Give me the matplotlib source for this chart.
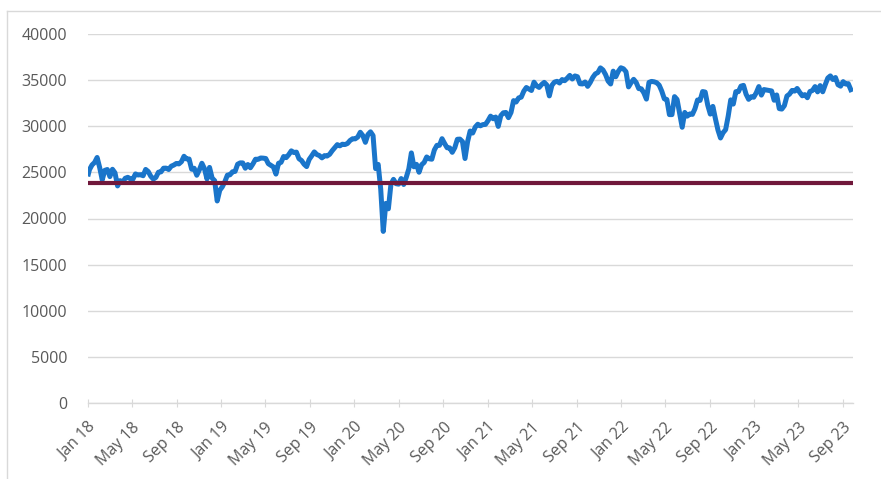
import matplotlib
matplotlib.use("Agg")
import matplotlib.pyplot as plt
import matplotlib.dates as mdates
from matplotlib.lines import Line2D
import pandas as pd

# weekly closes (Fridays)
dow_2018 = [25296, 25803, 26072, 26617, 25521, 24191, 25219, 25310, 24538, 25336, 24947, 23533,
            24103, 23933, 24360, 24463, 24311, 24263, 24831, 24715, 24753, 24635, 25317, 25090,
            24581, 24271, 24456, 25019, 25058, 25451, 25463, 25313, 25669, 25790, 25965, 25917,
            26155, 26744, 26458, 26447, 25340, 25444, 24688, 25271, 25989, 25413, 24286, 25538,
            24389, 24101, 21900, 23062]
dow_2019 = [23433, 23996, 24706, 24737, 25064, 25106, 25883, 26031, 26026, 25450, 25849, 25502,
            25929, 26425, 26412, 26559, 26543, 26505, 25942, 25764, 25586, 24815, 25984, 26090,
            26719, 26600, 26922, 27332, 27154, 27192, 26485, 26287, 25886, 25629, 26403, 26797,
            27220, 26935, 26820, 26573, 26817, 26770, 26958, 27347, 27681, 28005, 27876, 28051,
            28015, 28135, 28455, 28645]
dow_2020 = [28634, 28824, 29348, 28989, 28256, 29102, 29398, 28992, 25409, 25865, 23186, 18600,
            21637, 21053, 23719, 24242, 23775, 23724, 24331, 23685, 24465, 25383, 27111, 25605,
            25871, 25016, 25827, 26075, 26672, 26470, 26428, 27433, 27931, 27930, 28654, 28133,
            27666, 27657, 27174, 27682, 28587, 28606, 28336, 26502, 28323, 29480, 29263, 29910,
            30218, 30046, 30179, 30200]
dow_2021 = [30606, 31098, 30814, 30997, 29983, 31148, 31458, 31494, 30932, 31496, 32779, 32628,
            33073, 33153, 33801, 34200, 34043, 33875, 34778, 34382, 34208, 34529, 34756, 34480,
            33290, 34434, 34786, 34870, 34688, 35062, 34935, 35209, 35515, 35120, 35456, 35369,
            34608, 34584, 34798, 34326, 34746, 35295, 35677, 35820, 36328, 36100, 35602, 34899,
            34580, 35971, 35365, 35950, 36338]
dow_2022 = [36231, 35912, 34265, 34725, 35089, 34738, 34079, 34059, 33615, 32944, 34755, 34861,
            34818, 34721, 34451, 33811, 32977, 32899, 31262, 31262, 33212, 32899, 31393, 29888,
            31500, 31097, 31338, 31288, 31899, 32845, 32803, 33761, 33706, 32283, 31318, 32151,
            30822, 29590, 28725, 29297, 29634, 31082, 32861, 32403, 33748, 33746, 34347, 34430,
            33476, 32920, 33204, 33147]
dow_2023 = [33631, 34303, 33375, 33978, 33926, 33869, 33827, 32817, 33391, 31910, 31862, 32238,
            33274, 33485, 33886, 33809, 34098, 33675, 33301, 33427, 33093, 33763, 33877, 34299,
            33727, 34408, 33734, 34509, 35228, 35459, 35066, 35281, 34501, 34346, 34838, 34577,
            34618, 33964]

start_value = 24824
reference_level = 23900

dow = [start_value] + dow_2018 + dow_2019 + dow_2020 + dow_2021 + dow_2022 + dow_2023
fridays = pd.date_range("2018-01-05", periods=len(dow) - 1, freq="W-FRI")
dates = [pd.Timestamp("2018-01-02")] + list(fridays)

plt.rcParams["font.family"] = ["Open Sans", "DejaVu Sans"]

fig = plt.figure(figsize=(8.81, 4.79), dpi=100)
ax = fig.add_axes([88 / 881, 1 - 403 / 479, (853 - 88) / 881, (403 - 34) / 479])

ax.plot(dates, dow, color="#1A75CA", linewidth=3.6, solid_joinstyle="round", zorder=3)
ax.axhline(reference_level, color="#70183B", linewidth=3.0, zorder=4)

ax.set_ylim(0, 40000)
ax.set_yticks(range(0, 40001, 5000))
ax.set_xlim(pd.Timestamp("2018-01-01"), pd.Timestamp("2023-09-28"))

ax.xaxis.set_major_locator(mdates.MonthLocator(bymonth=[1, 5, 9]))
ax.xaxis.set_major_formatter(mdates.DateFormatter("%b %y"))

ax.grid(axis="y", color="#D9D9D9", linewidth=1)
ax.set_axisbelow(True)
for side in ["top", "right", "left"]:
    ax.spines[side].set_visible(False)
ax.spines["bottom"].set_color("#D9D9D9")
ax.spines["bottom"].set_linewidth(1)

ax.tick_params(axis="y", length=0, pad=15, labelsize=11.5, labelcolor="#595959")
ax.tick_params(axis="x", direction="inout", length=6, color="#D9D9D9",
               pad=9, labelsize=11.5, labelcolor="#595959")
for lbl in ax.get_xticklabels():
    lbl.set_rotation(45)
    lbl.set_ha("right")
    lbl.set_rotation_mode("anchor")

# outer chart border (only left and top visible in the crop)
fig.add_artist(Line2D([7 / 881, 7 / 881], [0, 1 - 11 / 479], transform=fig.transFigure,
                      color="#D9D9D9", linewidth=1))
fig.add_artist(Line2D([7 / 881, 1], [1 - 11 / 479, 1 - 11 / 479], transform=fig.transFigure,
                      color="#D9D9D9", linewidth=1))

fig.savefig("out.png", dpi=100)
